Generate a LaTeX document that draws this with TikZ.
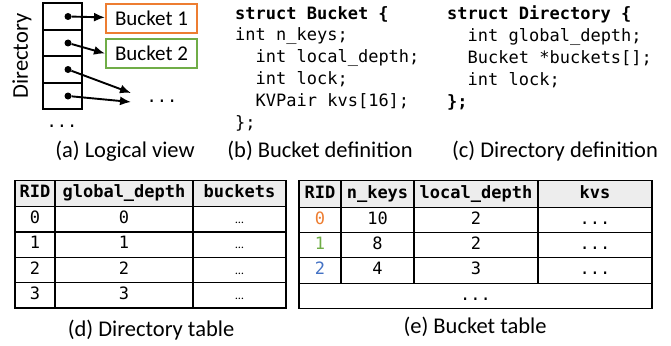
\documentclass[tikz,border=0pt]{standalone}
\usepackage{fontspec}
\setmainfont{Carlito}
\setmonofont{DejaVu Sans Mono}
\usetikzlibrary{positioning}
\usetikzlibrary{arrows.meta}
\definecolor{bOrange}{HTML}{ED7D31}
\definecolor{bGreen}{HTML}{70AD47}
\definecolor{bBlue}{HTML}{4472C4}
\definecolor{hdrGray}{HTML}{EDEDED}

\begin{document}
\begin{tikzpicture}[x=1pt, y=-1pt, ->, >={Latex[length=11pt,width=9pt]},
  dircell/.style={rectangle, draw, line width=2pt, minimum width=39pt, minimum height=26.5pt, inner sep=0pt, outer sep=0pt},
  ptr/.style={circle, fill, inner sep=0pt, minimum size=7pt},
  ptrarrow/.style={line width=1.9pt},
  bucket/.style={rectangle, draw, line width=2pt, minimum width=91pt, minimum height=29.5pt, font=\fontsize{21}{21}\selectfont},
  caption/.style={font=\fontsize{22.5}{22.5}\selectfont},
  dots/.style={font=\ttfamily\fontsize{17}{17}\selectfont},
  code/.style={anchor=north west, inner sep=0pt, align=left, font=\ttfamily\fontsize{17}{21.8}\selectfont},
  cell/.style={rectangle, draw, line width=1.2pt, inner sep=0pt, outer sep=0pt, minimum height=25.3pt, text height=12pt, text depth=3.5pt, font=\ttfamily\fontsize{17}{17}\selectfont},
  head/.style={cell, fill=hdrGray, minimum height=26.5pt, font=\ttfamily\bfseries\fontsize{17}{17}\selectfont}]

  \useasboundingbox (0,0) rectangle (671,345);

  % (a) logical view
  \node[dircell] (d0) at (62.5,16.5) {};
  \node[dircell] (d1) [below=0pt of d0] {};
  \node[dircell] (d2) [below=0pt of d1] {};
  \node[dircell] (d3) [below=0pt of d2] {};
  \node[ptr] (p0) at ([xshift=5.5pt]d0.center) {};
  \node[ptr] (p1) at ([xshift=5.5pt]d1.center) {};
  \node[ptr] (p2) at ([xshift=5.5pt]d2.center) {};
  \node[ptr] (p3) at ([xshift=5.5pt]d3.center) {};
  \node[bucket, draw=bOrange] (b1) at (151.5,18.5) {Bucket 1};
  \node[bucket, draw=bGreen] (b2) [below=3.5pt of b1] {Bucket 2};
  \coordinate (e2) at (131,93);
  \coordinate (e3) at (131,102);
  \node[dots] (m1) at (162,101) {...};
  \node[dots] (m2) at (62,126) {...};
  \node[caption, rotate=90] (dl) at (22,56) {Directory};
  \node[caption] (ca) at (125,151) {(a) Logical view};

  \path
    (p0) edge[ptrarrow] (b1)
    (p1) edge[ptrarrow] (b2.west)
    (p2) edge[ptrarrow] (e2)
    (p3) edge[ptrarrow] (e3)
  ;

  % (b) and (c) definitions
  \node[code] (sb) at (235,5.9) {\textbf{struct Bucket \{}\\int n\_keys;\\\hspace*{20.5pt}int local\_depth;\\\hspace*{20.5pt}int lock;\\\hspace*{20.5pt}KVPair kvs[16];\\\};};
  \node[code] (sd) at (447,5.9) {\textbf{struct Directory \{}\\\hspace*{20.5pt}int global\_depth;\\\hspace*{20.5pt}Bucket *buckets[];\\\hspace*{20.5pt}int lock;\\\textbf{\};}};
  \node[caption] (cb) at (320,151) {(b) Bucket definition};
  \node[caption] (cc) at (555,151) {(c) Directory definition};

  % (d) directory table
  \node[head, minimum width=40pt] (dt00) at (35,193.5) {RID};
  \node[head, minimum width=138pt] (dt01) [right=0pt of dt00] {global\_depth};
  \node[head, minimum width=93pt] (dt02) [right=0pt of dt01] {buckets};
  \foreach \i [count=\r] in {0,...,3} {
    \pgfmathtruncatemacro\p{\r-1}
    \node[cell, minimum width=40pt] (dt\r0) [below=0pt of dt\p0] {\i};
    \node[cell, minimum width=138pt] (dt\r1) [right=0pt of dt\r0] {\i};
    \node[cell, minimum width=93pt] (dt\r2) [right=0pt of dt\r1] {{\rmfamily\fontsize{12}{12}\selectfont …}};
  }
  \node[caption] (cd) at (151,330) {(d) Directory table};

  % (e) bucket table
  \node[head, minimum width=42pt] (et00) at (320,194) {RID};
  \node[head, minimum width=73pt] (et01) [right=0pt of et00] {n\_keys};
  \node[head, minimum width=124pt] (et02) [right=0pt of et01] {local\_depth};
  \node[head, minimum width=114pt] (et03) [right=0pt of et02] {kvs};
  \foreach \i/\k/\l/\c [count=\r] in {0/10/2/bOrange, 1/8/2/bGreen, 2/4/3/bBlue} {
    \pgfmathtruncatemacro\p{\r-1}
    \node[cell, minimum width=42pt, text=\c] (et\r0) [below=0pt of et\p0] {\i};
    \node[cell, minimum width=73pt] (et\r1) [right=0pt of et\r0] {\k};
    \node[cell, minimum width=124pt] (et\r2) [right=0pt of et\r1] {\l};
    \node[cell, minimum width=114pt] (et\r3) [right=0pt of et\r2] {...};
  }
  \node[cell, minimum width=353pt, below=0pt of et30.south west, anchor=north west] (et40) {...};
  \node[caption] (ce) at (475,327) {(e) Bucket table};
\end{tikzpicture}
\end{document}
